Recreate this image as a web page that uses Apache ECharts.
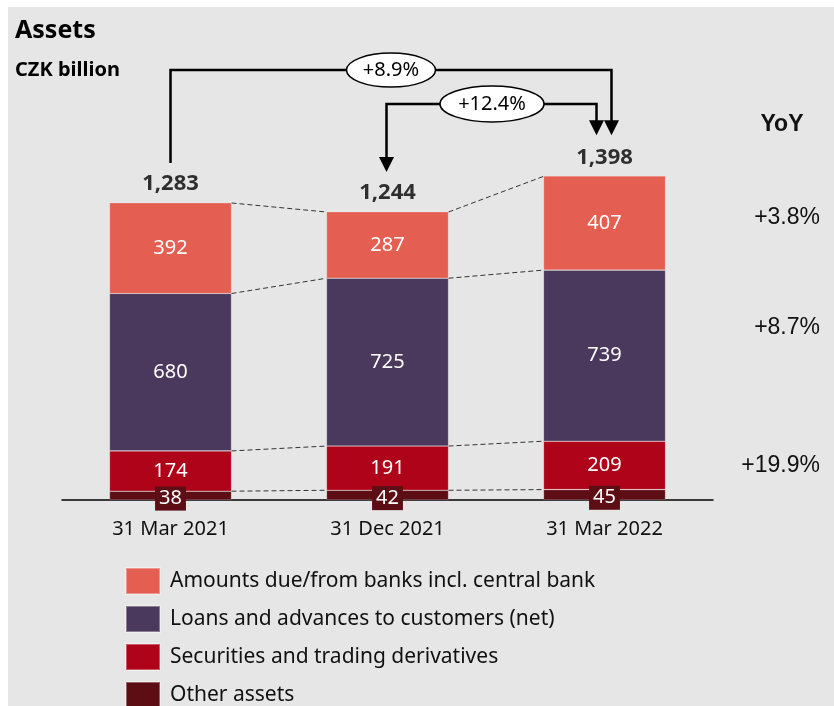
<!DOCTYPE html>
<html>
<head>
<meta charset="utf-8">
<script src="https://cdn.jsdelivr.net/npm/echarts@6/dist/echarts.min.js"></script>
<style>
html,body{margin:0;padding:0;background:#fff;}
#c{width:834px;height:706px;}
</style>
</head>
<body>
<div id="c"></div>
<script>
// ---- data ----
var categories = ['31 Mar 2021', '31 Dec 2021', '31 Mar 2022'];
var seriesNames = ['Amounts due/from banks incl. central bank', 'Loans and advances to customers (net)', 'Securities and trading derivatives', 'Other assets'];
var otherAssets = [38, 42, 45];
var securities = [174, 191, 209];
var loans = [680, 725, 739];
var amountsDue = [392, 287, 407];
var totals = [1283, 1244, 1398];
var totalLabels = ['1,283', '1,244', '1,398'];
var yoyLabels = ['+3.8%', '+8.7%', '+19.9%'];
var changeLabels = ['+8.9%', '+12.4%'];
var colors = ['#e45f51', '#4b385d', '#ae0318', '#5c0e14'];

var FONT = '"Noto Sans", sans-serif';
var BAR_W = 122;

// cumulative boundaries per category (bottom to top)
var stackOrder = [otherAssets, securities, loans, amountsDue];
var cum = categories.map(function (c, i) {
  var s = 0, out = [];
  stackOrder.forEach(function (arr) { s += arr[i]; out.push(s); });
  out[out.length - 1] = totals[i];
  return out;
});
var connectorData = [];
for (var i = 0; i < categories.length - 1; i++) {
  for (var k = 0; k < 4; k++) connectorData.push([i, cum[i][k], cum[i + 1][k]]);
}

var chart = echarts.init(document.getElementById('c'), null, {renderer: 'canvas'});

function segLabel() {
  return {show: true, position: 'inside', color: '#fff', fontSize: 20, fontFamily: FONT};
}
var barBorder = {borderColor: 'rgba(255,255,255,0.35)', borderWidth: 0.6};

var option = {
  backgroundColor: '#ffffff',
  animation: false,
  grid: {left: 62, right: 121, top: 37, bottom: 206},
  xAxis: {
    type: 'category', data: categories,
    axisLine: {lineStyle: {color: '#000', width: 1.5}},
    axisTick: {show: false},
    axisLabel: {color: '#111', fontSize: 20, fontFamily: FONT, margin: 19}
  },
  yAxis: {type: 'value', min: 0, max: 2000, show: false, splitLine: {show: false}},
  legend: {
    orient: 'vertical', left: 120, top: 562, height: 160,
    itemWidth: 34, itemHeight: 26, itemGap: 10, icon: 'rect',
    data: seriesNames,
    textStyle: {fontSize: 21, lineHeight: 24, color: '#111', fontFamily: FONT, padding: [0, 0, 0, 5]}
  },
  series: [
    {name: seriesNames[3], type: 'bar', stack: 'a', data: otherAssets, barWidth: BAR_W,
      itemStyle: Object.assign({color: colors[3]}, barBorder),
      label: {show: true, position: 'inside', color: '#fff', fontSize: 20, fontFamily: FONT,
        backgroundColor: colors[3], padding: [2, 4, 2, 4], offset: [0, 3]}},
    {name: seriesNames[2], type: 'bar', stack: 'a', data: securities, barWidth: BAR_W,
      itemStyle: Object.assign({color: colors[2]}, barBorder), label: segLabel()},
    {name: seriesNames[1], type: 'bar', stack: 'a', data: loans, barWidth: BAR_W,
      itemStyle: Object.assign({color: colors[1]}, barBorder), label: segLabel()},
    {name: seriesNames[0], type: 'bar', stack: 'a', data: amountsDue, barWidth: BAR_W,
      itemStyle: Object.assign({color: colors[0]}, barBorder), label: segLabel()},
    {type: 'scatter', symbolSize: 0, silent: true,
      data: totals.map(function (t, i) { return [i, t]; }),
      label: {show: true, position: 'top', distance: 8, color: '#000', fontWeight: 'bold', fontSize: 22, fontFamily: FONT,
        formatter: function (p) { return totalLabels[p.dataIndex]; }}},
    {type: 'custom', silent: true, data: connectorData, z: 1,
      renderItem: function (params, api) {
        var p1 = api.coord([api.value(0), api.value(1)]);
        var p2 = api.coord([api.value(0) + 1, api.value(2)]);
        return {type: 'line', shape: {x1: p1[0] + BAR_W / 2, y1: p1[1], x2: p2[0] - BAR_W / 2, y2: p2[1]},
          style: {stroke: '#333', lineWidth: 1, lineDash: [5, 3]}};
      }}
  ]
};
chart.setOption(option);

// ---- annotations computed from axes ----
function px(i, v) { return chart.convertToPixel({xAxisIndex: 0, yAxisIndex: 0}, [i, v]); }
var arrowLevels = [1857, 1711]; // value-axis heights of the bracket lines
var g = [];
g.push({type: 'rect', z: -10, silent: true, shape: {x: 8, y: 7, width: 834, height: 706}, style: {fill: '#e6e6e6'}});
g.push({type: 'text', x: 15, y: 31, style: {text: 'Assets', font: 'bold 25px ' + FONT, fill: '#000', textVerticalAlign: 'middle'}});
g.push({type: 'text', x: 15, y: 70, style: {text: 'CZK billion', font: 'bold 20px ' + FONT, fill: '#000', textVerticalAlign: 'middle'}});

function arrowHead(x, y) {
  return {type: 'polygon', shape: {points: [[x - 7.5, y - 15], [x + 7.5, y - 15], [x, y]]}, style: {fill: '#000'}};
}
var LW = 2.5;
var a0 = px(0, totals[0]), a1 = px(1, totals[1]), a2 = px(2, totals[2]);
var lvl1 = px(0, arrowLevels[0])[1], lvl2 = px(0, arrowLevels[1])[1];
var r1x = a2[0] + 7, r2x = a2[0] - 8;
var tip2 = a2[1] - 41;
// arrow 1: 31 Mar 2021 -> 31 Mar 2022
g.push({type: 'polyline', shape: {points: [[a0[0], a0[1] - 40], [a0[0], lvl1], [r1x, lvl1], [r1x, tip2 - 13]]},
  style: {stroke: '#000', lineWidth: LW, fill: null}});
g.push(arrowHead(r1x, tip2));
// arrow 2: bracket from 31 Dec 2021 to 31 Mar 2022
g.push({type: 'polyline', shape: {points: [[a1[0] - 1, a1[1] - 53], [a1[0] - 1, lvl2], [r2x, lvl2], [r2x, tip2 - 13]]},
  style: {stroke: '#000', lineWidth: LW, fill: null}});
g.push(arrowHead(a1[0] - 1, a1[1] - 40));
g.push(arrowHead(r2x, tip2));
// ellipses
var e1x = (a0[0] + r1x) / 2, e2x = (a1[0] + r2x) / 2;
g.push({type: 'ellipse', z: 5, shape: {cx: e1x, cy: lvl1, rx: 44.5, ry: 17}, style: {fill: '#fff', stroke: '#000', lineWidth: 1.5}});
g.push({type: 'text', x: e1x, y: lvl1, z: 6, style: {text: changeLabels[0], font: '20px ' + FONT, fill: '#000', textAlign: 'center', textVerticalAlign: 'middle'}});
g.push({type: 'ellipse', z: 5, shape: {cx: e2x, cy: lvl2, rx: 52, ry: 18}, style: {fill: '#fff', stroke: '#000', lineWidth: 1.5}});
g.push({type: 'text', x: e2x, y: lvl2, z: 6, style: {text: changeLabels[1], font: '20px ' + FONT, fill: '#000', textAlign: 'center', textVerticalAlign: 'middle'}});
// YoY column
var YF = '"Liberation Sans", Arial, sans-serif';
g.push({type: 'text', x: 782, y: 125, style: {text: 'YoY', font: 'bold 23px ' + YF, fill: '#111', textAlign: 'center', textVerticalAlign: 'middle'}});
var yoyY = [218, 328, 466];
yoyLabels.forEach(function (t, i) {
  g.push({type: 'text', x: 820, y: yoyY[i], style: {text: t, font: '23px ' + YF, fill: '#111', textAlign: 'right', textVerticalAlign: 'middle'}});
});
chart.setOption({graphic: g});
</script>
</body>
</html>
